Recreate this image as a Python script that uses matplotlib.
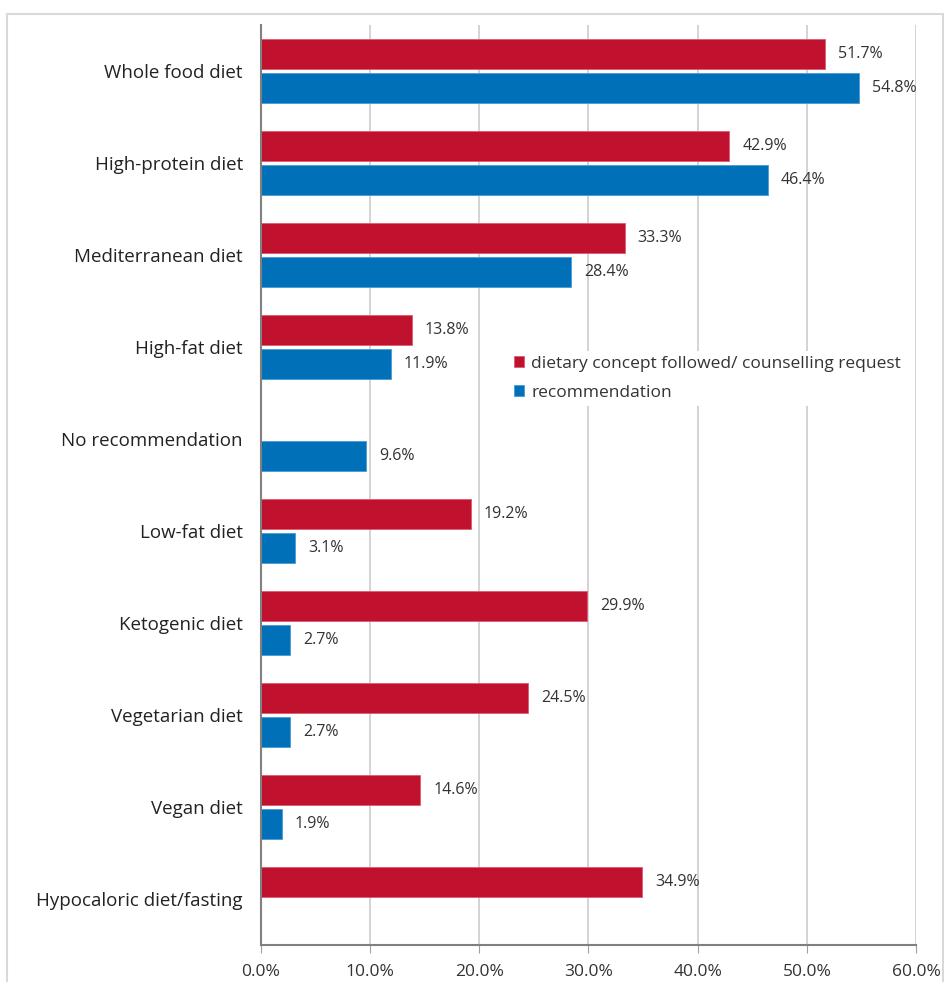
import matplotlib.pyplot as plt
from matplotlib.patches import Rectangle
from matplotlib.ticker import FuncFormatter
import numpy as np

categories = [
    "Whole food diet",
    "High-protein diet",
    "Mediterranean diet",
    "High-fat diet",
    "No recommendation",
    "Low-fat diet",
    "Ketogenic diet",
    "Vegetarian diet",
    "Vegan diet",
    "Hypocaloric diet/fasting",
]
followed = [51.7, 42.9, 33.3, 13.8, None, 19.2, 29.9, 24.5, 14.6, 34.9]
recommended = [54.8, 46.4, 28.4, 11.9, 9.6, 3.1, 2.7, 2.7, 1.9, None]
xticks = [0, 10, 20, 30, 40, 50, 60]

RED = "#C0122E"
BLUE = "#0070B8"
FONT = "Open Sans"

fig = plt.figure(figsize=(9.45, 9.82), dpi=100)
ax = fig.add_axes([0.2762, 0.0377, 0.6931, 0.9368])

# light frame around the whole chart
fig.patches.append(Rectangle((0.0074, -0.01), 0.99, 0.996, transform=fig.transFigure,
                             fill=False, edgecolor="#D9D9D9", linewidth=1.5))

y = np.arange(len(categories))
h = 0.33
off = 0.185
for i, (f, r) in enumerate(zip(followed, recommended)):
    if f is not None:
        ax.barh(y[i] - off, f, height=h, color=RED, edgecolor="#E05A70", linewidth=0.6,
                label="dietary concept followed/ counselling request" if i == 0 else None)
        ax.text(f + 1.2, y[i] - off, f"{f:.1f}%", va="center", ha="left",
                fontsize=11.5, family=FONT, color="#333333")
    if r is not None:
        ax.barh(y[i] + off, r, height=h, color=BLUE, edgecolor="#4A9AD6", linewidth=0.6,
                label="recommendation" if i == 0 else None)
        ax.text(r + 1.2, y[i] + off, f"{r:.1f}%", va="center", ha="left",
                fontsize=11.5, family=FONT, color="#333333")

ax.set_ylim(len(categories) - 0.5, -0.5)
ax.set_xlim(0, 60)
ax.set_yticks(y)
ax.set_yticklabels(categories, fontsize=13.5, family=FONT, color="#222222")
ax.set_xticks(xticks)
ax.xaxis.set_major_formatter(FuncFormatter(lambda v, _: f"{v:.1f}%"))
for lab in ax.get_xticklabels():
    lab.set_fontsize(12.5)
    lab.set_family(FONT)
    lab.set_color("#333333")

ax.tick_params(axis="y", length=0, pad=13)
ax.tick_params(axis="x", length=6, color="#A0A0A0", direction="out", pad=8)
ax.grid(axis="x", color="#D0D0D0", linewidth=1.3)
ax.set_axisbelow(True)
for side in ("top", "right"):
    ax.spines[side].set_visible(False)
for side in ("left", "bottom"):
    ax.spines[side].set_color("#808080")
    ax.spines[side].set_linewidth(1.5)

leg = ax.legend(loc="upper left", bbox_to_anchor=(0.365, 0.6555), frameon=True,
                facecolor="white", edgecolor="none", framealpha=1,
                prop={"family": FONT, "size": 12.5}, handlelength=0.55, handleheight=0.55,
                handletextpad=0.45, labelspacing=0.75, borderpad=0.3)
for t in leg.get_texts():
    t.set_color("#333333")

fig.savefig("out.png", dpi=100)
